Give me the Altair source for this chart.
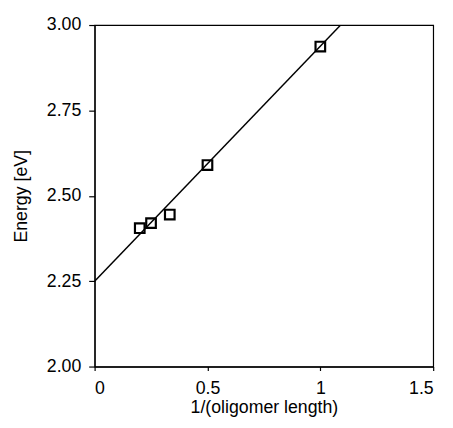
import altair as alt
import pandas as pd

# Data
inv_length = [0.2, 0.25, 0.333, 0.5, 1.0]
energy = [2.405, 2.42, 2.445, 2.59, 2.937]

fit_x = [0.0, 1.09]
fit_y = [2.25, 3.0]

x_ticks = [0, 0.5, 1, 1.5]
y_ticks = [2.0, 2.25, 2.5, 2.75, 3.0]

pts = pd.DataFrame({"x": inv_length, "y": energy})
fit = pd.DataFrame({"x": fit_x, "y": fit_y})

FONT = "Liberation Sans"

xscale = alt.Scale(domain=[0, 1.5], nice=False, zero=False)
yscale = alt.Scale(domain=[2.0, 3.0], nice=False, zero=False)

xaxis = alt.Axis(values=x_ticks, format="~g", title="1/(oligomer length)", grid=False,
                 tickSize=4, labelPadding=9, titlePadding=2)
yaxis = alt.Axis(values=y_ticks, format=".2f", title="Energy [eV]", grid=False,
                 tickSize=6, labelPadding=8, titlePadding=16)

line = alt.Chart(fit).mark_line(color="black", strokeWidth=1.5, clip=True).encode(
    x=alt.X("x:Q", scale=xscale, axis=xaxis),
    y=alt.Y("y:Q", scale=yscale, axis=yaxis),
)

points = alt.Chart(pts).mark_point(shape="square", size=95, filled=False,
                                   color="black", strokeWidth=2.2, opacity=1).encode(
    x=alt.X("x:Q", scale=xscale),
    y=alt.Y("y:Q", scale=yscale),
)

chart = (line + points).properties(
    width=344, height=347,
    background="white",
    autosize=alt.AutoSizeParams(type="none"),
    padding={"left": 88, "top": 14, "right": 12, "bottom": 51},
).configure_view(
    stroke="black", strokeWidth=1.2
).configure_axis(
    domainColor="black", domainWidth=1.2, tickColor="black", tickWidth=1.2,
    labelColor="black", titleColor="black",
    labelFont=FONT, titleFont=FONT, labelFontSize=18, titleFontSize=18,
    titleFontWeight="normal",
)

chart.save("out.html", embed_options={"renderer": "svg", "actions": False})
